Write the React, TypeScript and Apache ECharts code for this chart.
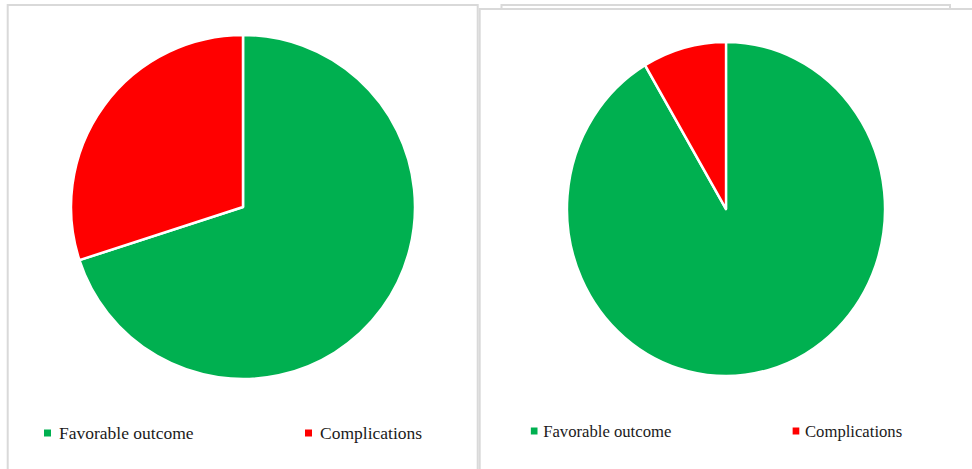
import React, { useEffect, useRef } from "react";
import * as echarts from "echarts";

const categories = ["Favorable outcome", "Complications"];
const colors = ["#00B050", "#FF0000"];
const leftValues = [70, 30];
const rightValues = [91.5, 8.5];

const FONT = "'Liberation Serif', 'Times New Roman', serif";
const RIGHT_SCALE = 0.952;

const mkData = (vals: number[]) =>
  categories.map((c, i) => ({ name: c, value: vals[i], itemStyle: { color: colors[i] } }));

const legendBase = (name: string, left: number, top: number, fs: number, pad: number) => ({
  data: [name],
  left,
  top,
  padding: 0,
  icon: "rect",
  itemWidth: 9,
  itemHeight: 9,
  selectedMode: false,
  textStyle: { fontFamily: FONT, fontSize: fs, color: "#1a1a1a", padding: [0, 0, 0, pad] },
});

const pieBase = (center: number[], radius: number, vals: number[]) => ({
  type: "pie",
  z: 5,
  center,
  radius,
  startAngle: 90,
  clockwise: true,
  label: { show: false },
  labelLine: { show: false },
  emphasis: { disabled: true },
  itemStyle: { borderColor: "#ffffff", borderWidth: 2.5 },
  data: mkData(vals),
});

export default function App() {
  const ref = useRef<HTMLDivElement>(null);
  const ref2 = useRef<HTMLDivElement>(null);
  useEffect(() => {
    if (!ref.current || !ref2.current) return;
    const chart = echarts.init(ref.current, null, { renderer: "svg" });
    chart.setOption({
      animation: false,
      backgroundColor: "#ffffff",
      graphic: [
        {
          type: "rect",
          z: 0,
          shape: { x: 501.5, y: 5, width: 448.5, height: 30 },
          style: { fill: "#fff", stroke: "#d9d9d9", lineWidth: 2 },
        },
        {
          type: "rect",
          z: 1,
          shape: { x: 479.7, y: 9, width: 520, height: 500 },
          style: { fill: "#fff", stroke: "#d9d9d9", lineWidth: 2 },
        },
        {
          type: "rect",
          z: 2,
          shape: { x: 7.7, y: 5, width: 470, height: 500 },
          style: { fill: "#fff", stroke: "#d9d9d9", lineWidth: 2 },
        },
      ],
      legend: [
        legendBase(categories[0], 42, 424, 17.5, 2),
        legendBase(categories[1], 303, 424, 17.5, 2),
      ],
      series: [pieBase([243, 207], 172, leftValues)],
    });

    const chart2 = echarts.init(ref2.current, null, { renderer: "svg" });
    chart2.setOption({
      animation: false,
      legend: [
        legendBase(categories[0], 39, 422, 17.5, 0),
        legendBase(categories[1], 314, 422, 17.5, 0),
      ],
      series: [pieBase([246, 209], 167, rightValues)],
    });
    return () => {
      chart.dispose();
      chart2.dispose();
    };
  }, []);
  return (
    <>
      <div
        ref={ref}
        style={{ position: "absolute", left: 0, top: 0, width: 972, height: 469 }}
      />
      <div
        ref={ref2}
        style={{
          position: "absolute",
          left: 480,
          top: 0,
          width: 492,
          height: 469,
          transform: `scaleX(${RIGHT_SCALE})`,
          transformOrigin: "246px 0px",
        }}
      />
    </>
  );
}
